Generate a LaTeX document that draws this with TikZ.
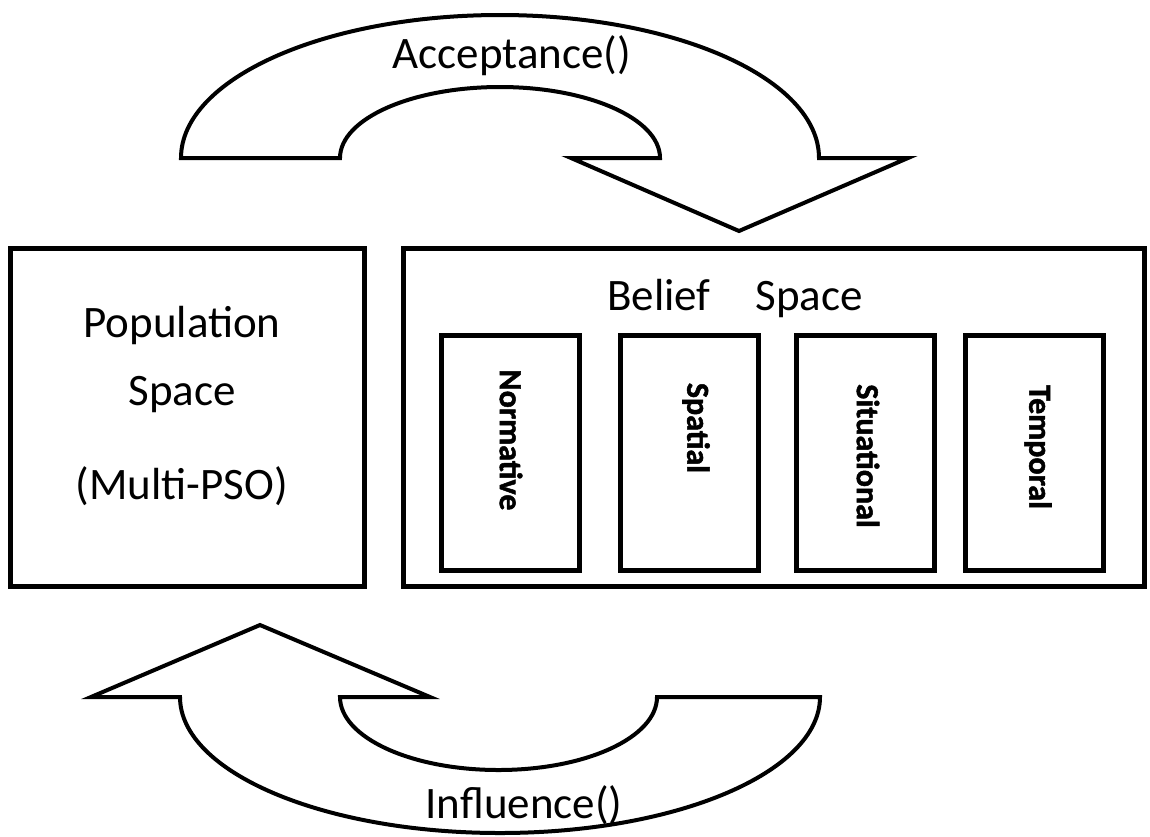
\documentclass[tikz,border=0pt]{standalone}
\usepackage{fontspec}
\setmainfont{Carlito}
\newfontfamily\vfont{Carlito}[BoldFeatures={FakeBold=1.5}]
\begin{document}
\begin{tikzpicture}[x=0.5pt,y=0.5pt,
  spacebox/.style={draw,line width=2.5pt,rectangle,inner sep=0pt,minimum height=169pt},
  kbox/.style={draw,line width=2.5pt,rectangle,inner sep=0pt,minimum width=69pt,minimum height=117.5pt},
  lbl/.style={inner sep=0pt,font=\fontsize{22.5}{27}\selectfont},
  vlbl/.style={inner sep=0pt,rotate=-90,font=\vfont\bfseries\fontsize{16}{20}\selectfont},
  bigarrow/.style={draw,line width=2pt,fill=white,line join=miter}]
\useasboundingbox (0,0) rectangle (1150,-836);
% top arrow (Acceptance)
\draw[bigarrow] (181,-158) arc[start angle=180,end angle=0,x radius=319,y radius=143]
  -- (908,-158) -- (739,-231) -- (571,-158) -- (660,-158)
  arc[start angle=0,end angle=180,x radius=160,y radius=71] -- cycle;
\node[lbl,anchor=base] (acc) at (512,-68) {Acceptance()};
% bottom arrow (Influence)
\draw[bigarrow] (820,-697) arc[start angle=0,end angle=-180,x radius=320,y radius=136]
  -- (91,-697) -- (260,-625) -- (430,-697) -- (340,-697)
  arc[start angle=180,end angle=360,x radius=158.5,y radius=73] -- cycle;
\node[lbl,anchor=base] (inf) at (524,-818) {Influence()};
% population space
\node[spacebox,minimum width=177pt] (pop) at (187.5,-417.5) {};
\node[lbl,anchor=base] (pop1) at (182,-337) {Population};
\node[lbl,anchor=base] (pop2) at (182,-405) {Space};
\node[lbl,anchor=base] (pop3) at (182,-499) {(Multi-PSO)};
% belief space
\node[spacebox,minimum width=370.5pt] (bel) at (774,-417.5) {};
\node[lbl,anchor=base] (beltxt) at (735,-310) {Belief\hspace{1em}Space};
\node[kbox] (k1) at (510,-453) {};
\node[kbox] (k2) at (689,-453) {};
\node[kbox] (k3) at (865,-453) {};
\node[kbox] (k4) at (1034,-453) {};
\node[vlbl] (t1) at (511,-440) {Normative};
\node[vlbl] (t2) at (696,-428) {Spatial};
\node[vlbl] (t3) at (868,-456) {Situational};
\node[vlbl] (t4) at (1038,-447) {Temporal};
\end{tikzpicture}
\end{document}
